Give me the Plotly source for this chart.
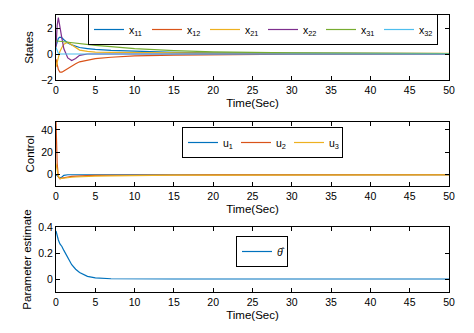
import plotly.graph_objects as go

# time grid (sec)
t = [0, 0.15, 0.3, 0.5, 0.75, 1, 1.5, 2, 2.5, 3, 4, 5, 7, 10, 15, 20, 30, 40, 50]

# states
x11 = [0.6, 1.0, 1.2, 1.3, 1.25, 1.1, 0.85, 0.7, 0.6, 0.5, 0.42, 0.35, 0.28, 0.2, 0.12, 0.08, 0.05, 0.04, 0.03]
x12 = [-0.4, -0.9, -1.2, -1.4, -1.4, -1.3, -1.1, -0.9, -0.75, -0.6, -0.45, -0.35, -0.25, -0.15, -0.08, -0.05, -0.02, -0.01, 0.0]
x21 = [-1.0, -0.6, -0.2, 0.2, 0.5, 0.75, 0.9, 0.7, 0.45, 0.3, 0.2, 0.15, 0.12, 0.1, 0.08, 0.07, 0.05, 0.05, 0.05]
x22 = [0.5, 2.2, 2.8, 2.2, 1.2, 0.4, -0.3, -0.5, -0.35, -0.1, 0.0, 0.0, 0.0, 0.0, 0.0, 0.0, 0.0, 0.0, 0.0]
x31 = [1.0, 1.0, 1.0, 0.98, 0.96, 0.94, 0.9, 0.86, 0.82, 0.78, 0.72, 0.66, 0.56, 0.42, 0.26, 0.16, 0.08, 0.05, 0.04]
x32 = [0.5, 0.2, 0.05, 0.0, 0.0, 0.0, 0.0, 0.0, 0.0, 0.0, 0.0, 0.0, 0.0, 0.0, 0.0, 0.0, 0.0, 0.0, 0.0]

# controls
u1 = [0.0, -1.0, -2.5, -3.0, -2.0, -0.5, 0.0, 0.0, 0.0, 0.0, 0.0, 0.0, 0.0, 0.0, 0.0, 0.0, 0.0, 0.0, 0.0]
u2 = [47.0, 10.0, -2.0, -3.5, -3.0, -2.5, -2.0, -1.5, -1.2, -1.0, -0.8, -0.6, -0.4, -0.3, -0.2, -0.1, 0.0, 0.0, 0.0]
u3 = [10.0, 3.0, -1.5, -3.5, -3.2, -3.0, -2.6, -2.2, -2.0, -1.8, -1.5, -1.2, -0.9, -0.6, -0.4, -0.3, -0.2, -0.1, -0.1]

# parameter estimate
theta = [0.37, 0.33, 0.3, 0.27, 0.25, 0.22, 0.16, 0.11, 0.075, 0.05, 0.02, 0.008, 0.002, 0.0, 0.0, 0.0, 0.0, 0.0, 0.0]

colors = ['#0072BD', '#D95319', '#EDB120', '#7E2F8E', '#77AC30', '#4DBEEE']
FONT = 'Liberation Sans, Arial, sans-serif'
W, H = 474, 333
OFF = 8  # page body margin

fig = go.Figure()

states = [('x<sub>11</sub>', x11), ('x<sub>12</sub>', x12), ('x<sub>21</sub>', x21),
          ('x<sub>22</sub>', x22), ('x<sub>31</sub>', x31), ('x<sub>32</sub>', x32)]
for i, (name, y) in enumerate(states):
    fig.add_trace(go.Scatter(x=t, y=y, name=name, mode='lines',
                             line=dict(color=colors[i], width=1.2),
                             xaxis='x', yaxis='y', legend='legend'))

for i, (name, y) in enumerate([('u<sub>1</sub>', u1), ('u<sub>2</sub>', u2), ('u<sub>3</sub>', u3)]):
    fig.add_trace(go.Scatter(x=t, y=y, name=name, mode='lines',
                             line=dict(color=colors[i], width=1.2),
                             xaxis='x2', yaxis='y2', legend='legend2'))

fig.add_trace(go.Scatter(x=t, y=theta, name='<i>θ̂</i>', mode='lines',
                         line=dict(color=colors[0], width=1.2),
                         xaxis='x3', yaxis='y3', legend='legend3'))

def px_x(v):
    return (v - OFF) / W

def px_y(v):
    return 1 - (v - OFF) / H

xdom = [px_x(56), px_x(449)]
def ydom(top, bot):
    return [px_y(bot), px_y(top)]

axis_common = dict(showline=True, linecolor='black', linewidth=1, mirror='allticks',
                   ticks='inside', ticklen=4, tickcolor='black', showgrid=False,
                   zeroline=False, automargin=False,
                   tickfont=dict(size=10.5, color='black'))

def xax(anchor):
    return dict(domain=xdom, anchor=anchor, range=[0, 50], dtick=5,
                title=dict(text='Time(Sec)', font=dict(size=11.5, color='black'), standoff=4),
                **axis_common)

def yax(anchor, dom, rng, dtick, title):
    return dict(domain=dom, anchor=anchor, range=rng, dtick=dtick,
                title=dict(text=title, font=dict(size=11.5, color='black'), standoff=4),
                **axis_common)

legend_common = dict(orientation='h', bordercolor='black', borderwidth=1,
                     bgcolor='white', font=dict(size=10.5, color='black'),
                     xanchor='left', yanchor='top', tracegroupgap=0)

fig.update_layout(
    width=W, height=H,
    margin=dict(l=0, r=0, t=0, b=0),
    paper_bgcolor='white', plot_bgcolor='white',
    font=dict(family=FONT, color='black'),
    showlegend=True,
    xaxis=xax('y'),
    yaxis=yax('x', ydom(15, 80), [-2, 3], 2, 'States'),
    xaxis2=xax('y2'),
    yaxis2=yax('x2', ydom(122, 186), [-10, 47], 20, 'Control'),
    xaxis3=xax('y3'),
    yaxis3=yax('x3', ydom(227, 292), [-0.1, 0.4], 0.2, 'Parameter estimate'),
    legend=dict(x=px_x(88), y=px_y(14), entrywidth=13, **legend_common),
    legend2=dict(x=px_x(182), y=px_y(127), entrywidth=8, **legend_common),
    legend3=dict(x=px_x(236), y=px_y(236), entrywidth=5, **legend_common),
)

fig.write_html("out.html")
